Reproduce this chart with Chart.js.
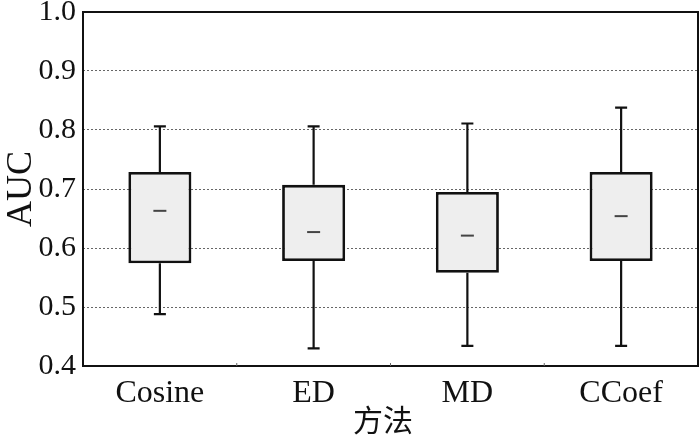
<!DOCTYPE html>
<html>
<head>
<meta charset="utf-8">
<script src="https://cdn.jsdelivr.net/npm/chart.js@4"></script>
<style>
    html, body { margin: 0; padding: 0; background: #fff; }
    #wrap { width: 700px; height: 438px; }
</style>
</head>
<body>
<div id="wrap"><canvas id="chart"></canvas></div>
<script>
// DATA
const categories = ["Cosine", "ED", "MD", "CCoef"];
const q1Values = [0.574, 0.578, 0.558, 0.578];
const q3Values = [0.729, 0.707, 0.695, 0.729];
const medianValues = [0.663, 0.627, 0.621, 0.654];
const minValues = [0.488, 0.430, 0.434, 0.434];
const maxValues = [0.806, 0.806, 0.811, 0.838];
const yTicks = [0.4, 0.5, 0.6, 0.7, 0.8, 0.9, 1.0];

const serif = "'Liberation Serif', 'Times New Roman', serif";

// whiskers, caps and medians on top of the boxes
const boxPlugin = {
    id: "boxParts",
    afterDatasetsDraw(chart) {
        const ctx = chart.ctx;
        const y = chart.scales.y;
        const bars = chart.getDatasetMeta(0).data;
        ctx.save();
        bars.forEach((bar, i) => {
            const x = bar.x;
            ctx.strokeStyle = "#111";
            ctx.lineWidth = 2.2;
            ctx.beginPath();
            ctx.moveTo(x, y.getPixelForValue(q3Values[i]));
            ctx.lineTo(x, y.getPixelForValue(maxValues[i]));
            ctx.moveTo(x, y.getPixelForValue(q1Values[i]));
            ctx.lineTo(x, y.getPixelForValue(minValues[i]));
            ctx.moveTo(x - 6, y.getPixelForValue(maxValues[i]));
            ctx.lineTo(x + 6, y.getPixelForValue(maxValues[i]));
            ctx.moveTo(x - 6, y.getPixelForValue(minValues[i]));
            ctx.lineTo(x + 6, y.getPixelForValue(minValues[i]));
            ctx.stroke();

            ctx.strokeStyle = "#444";
            ctx.lineWidth = 2;
            ctx.beginPath();
            ctx.moveTo(x - 6.5, y.getPixelForValue(medianValues[i]));
            ctx.lineTo(x + 6.5, y.getPixelForValue(medianValues[i]));
            ctx.stroke();
        });
        ctx.restore();
    },
    afterDraw(chart) {
        const ctx = chart.ctx;
        const a = chart.chartArea;
        const x = chart.scales.x;
        ctx.save();
        ctx.strokeStyle = "#111";
        ctx.lineWidth = 2;
        ctx.strokeRect(a.left, a.top, a.right - a.left, a.bottom - a.top);
        // small ticks between categories
        ctx.lineWidth = 1;
        ctx.strokeStyle = "#666";
        ctx.beginPath();
        for (let i = 1; i < categories.length; i++) {
            const px = (x.getPixelForValue(i - 1) + x.getPixelForValue(i)) / 2;
            ctx.moveTo(px, a.bottom);
            ctx.lineTo(px, a.bottom - 3);
        }
        ctx.stroke();
        ctx.restore();
    }
};

new Chart(document.getElementById("chart"), {
    type: "bar",
    data: {
        labels: categories,
        datasets: [{
            label: "AUC",
            data: q1Values.map((v, i) => [v, q3Values[i]]),
            backgroundColor: "#eeeeee",
            borderColor: "#111",
            borderWidth: 2.8,
            borderSkipped: false,
            barPercentage: 0.41,
            categoryPercentage: 1.0
        }]
    },
    options: {
        responsive: true,
        maintainAspectRatio: false,
        animation: false,
        layout: { padding: { top: 12, right: 2, left: 0, bottom: 0 } },
        plugins: {
            legend: { display: false },
            tooltip: { enabled: false }
        },
        scales: {
            x: {
                grid: { display: false },
                border: { display: false },
                ticks: {
                    color: "#111",
                    font: { family: serif, size: 32 },
                    padding: 0,
                    maxRotation: 0
                },
                title: {
                    display: true,
                    text: "方法\u2002",
                    color: "#111",
                    font: { family: "'Noto Sans CJK SC', sans-serif", size: 30 },
                    padding: { top: 0, bottom: 0 }
                },
                afterFit(scale) {
                    scale.height = 72;
                    scale.paddingLeft = 0;
                    scale.paddingRight = 0;
                }
            },
            y: {
                min: 0.4,
                max: 1.0,
                afterBuildTicks(scale) {
                    scale.ticks = yTicks.map(v => ({ value: v }));
                },
                grid: {
                    color: "#666",
                    lineWidth: 1,
                    drawTicks: false
                },
                border: { display: false, dash: [2, 2] },
                ticks: {
                    color: "#111",
                    font: { family: serif, size: 30 },
                    padding: 7,
                    callback: v => v.toFixed(1)
                },
                title: {
                    display: true,
                    text: "AUC",
                    color: "#111",
                    font: { family: serif, size: 36 },
                    padding: { top: 0, bottom: 0 }
                },
                afterFit(scale) {
                    scale.width = 83;
                    scale.paddingTop = 0;
                    scale.paddingBottom = 0;
                }
            }
        }
    },
    plugins: [boxPlugin]
});
</script>
</body>
</html>
